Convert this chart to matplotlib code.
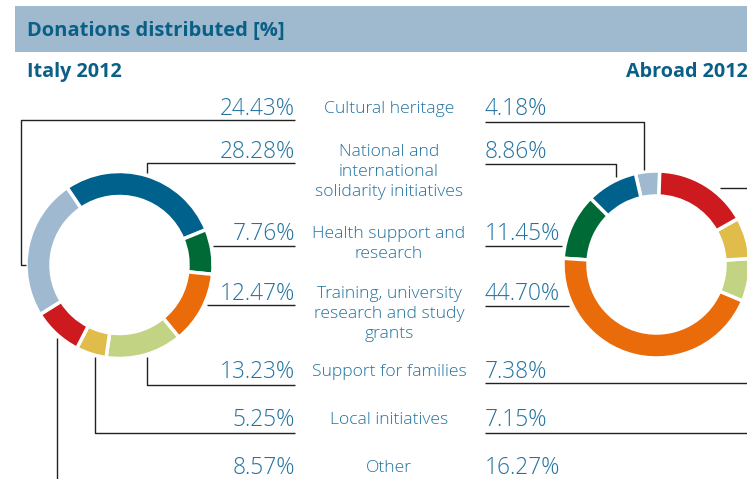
import matplotlib.pyplot as plt
from matplotlib.patches import Rectangle

W, H = 747, 479

categories = ["Cultural heritage",
              "National and\ninternational\nsolidarity initiatives",
              "Health support and\nresearch",
              "Training, university\nresearch and study\ngrants",
              "Support for families",
              "Local initiatives",
              "Other"]
italy = [24.43, 28.28, 7.76, 12.47, 13.23, 5.25, 8.57]
abroad = [4.18, 8.86, 11.45, 44.70, 7.38, 7.15, 16.27]
slice_colors = ["#9fb9d0", "#00628c", "#006a37", "#ea6b0a",
                "#c2d484", "#e0bc4a", "#cc1a1f"]

# row baselines (pixel y, from top) for each category
row_y = [107, 150, 232, 292, 370, 418, 467]

title_col = "#0a5f86"
text_col = "#2273a0"
line_col = "#222222"

plt.rcParams['font.family'] = ['Open Sans', 'DejaVu Sans']

fig = plt.figure(figsize=(W / 100, H / 100), dpi=100)
ax = fig.add_axes([0, 0, 1, 1])


def Y(y):
    return H - y


# header band
ax.add_patch(Rectangle((15, Y(52)), W - 15, 46, color="#9fb9cf", lw=0))
ax.text(27, Y(31), "Donations distributed [%]", fontsize=14.5, weight='bold',
        color=title_col, va='center')
ax.text(27, Y(72), "Italy 2012", fontsize=14.2, weight='bold', color=title_col, va='center')
ax.text(626, Y(72), "Abroad 2012", fontsize=14.2, weight='bold', color=title_col, va='center')

wp = dict(width=25, edgecolor='white', linewidth=2.5)
ax.pie(italy, colors=slice_colors, radius=93.5, center=(119.5, Y(265)),
       startangle=212, counterclock=False, wedgeprops=wp, frame=True)
ax.pie(abroad, colors=slice_colors, radius=93.5, center=(656.5, Y(264.5)),
       startangle=88, counterclock=True, wedgeprops=wp, frame=True)

for cat, vi, va_, y in zip(categories, italy, abroad, row_y):
    ax.text(295, Y(y + 1.5), f"{vi:.2f}%", fontsize=16.3, color=text_col,
            ha='right', va='center', weight='light')
    ax.text(485, Y(y + 1.5), f"{va_:.2f}%", fontsize=16.3, color=text_col,
            ha='left', va='center', weight='light')
    ax.text(389, Y(y) + 6.5, cat, fontsize=12.6, color=text_col,
            ha='center', va='top', linespacing=1.34, weight='light')

# leader lines, Italy side
italy_leaders = [
    [(295, 120), (21, 120), (21, 265), (26, 265)],
    [(295, 163), (147, 163), (147, 173)],
    [(295, 246), (213, 246)],
    [(295, 305), (207, 305)],
    [(295, 385), (147, 385), (147, 357)],
    [(295, 433), (95, 433), (95, 357)],
    [(57, 479), (57, 338)],
]
# leader lines, abroad side
abroad_leaders = [
    [(485, 122), (644, 122), (644, 170)],
    [(485, 164), (616, 164), (616, 177)],
    [(485, 246), (562, 246)],
    [(485, 306), (569, 306)],
    [(485, 383), (W, 383)],
    [(485, 433), (W, 433)],
    [(720, 188), (W, 188)],
]
for pts in italy_leaders + abroad_leaders:
    xs = [p[0] for p in pts]
    ys = [Y(p[1]) for p in pts]
    ax.plot(xs, ys, color=line_col, lw=1, solid_capstyle='butt')

ax.set_xlim(0, W)
ax.set_ylim(0, H)
ax.axis('off')

fig.savefig("out.png", dpi=100)
